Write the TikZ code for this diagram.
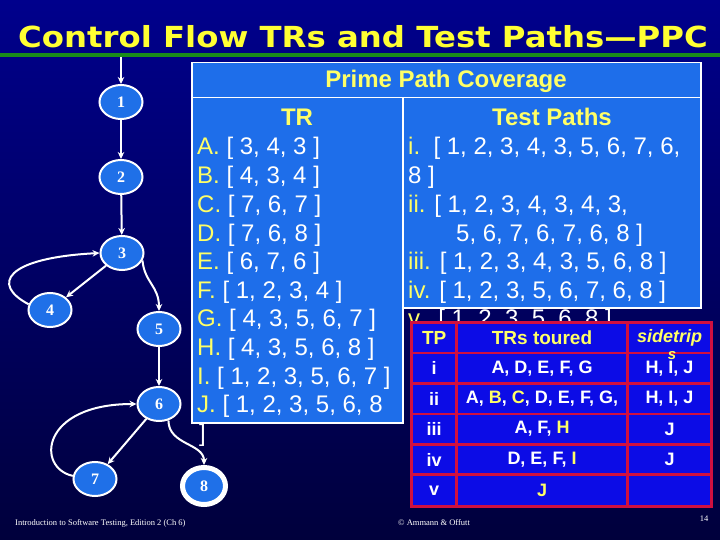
\documentclass[tikz,border=0pt]{standalone}
\usepackage{fontspec}
\setmainfont{Liberation Sans}
\newfontfamily\serifnum{Liberation Serif}
\newfontfamily\titlefont{DejaVu Sans}
\usepackage{xcolor}
\usetikzlibrary{positioning, arrows.meta, shapes.geometric}
\definecolor{bgtop}{HTML}{00008C}
\definecolor{bgbottom}{HTML}{00003C}
\definecolor{rulegreen}{HTML}{1A8C1A}
\definecolor{titleyellow}{HTML}{FFFF33}
\definecolor{tyellow}{HTML}{FFFF66}
\definecolor{ppcblue}{HTML}{1E6EEA}
\definecolor{nodeblue}{HTML}{1F70E8}
\definecolor{cellblue}{HTML}{0C0CE6}
\definecolor{tabred}{HTML}{D01040}
\newcommand{\trlbl}[1]{\textcolor{tyellow}{#1}}

\begin{document}
\begin{tikzpicture}[x=1pt, y=-1pt,
  cfgnode/.style={ellipse, draw=white, line width=2pt, fill=nodeblue, minimum width=43pt,
    minimum height=34pt, inner sep=0pt, text=white, font=\serifnum\bfseries\fontsize{16}{16}\selectfont},
  finalnode/.style={cfgnode, line width=5pt, minimum height=37pt},
  edge/.style={-{Stealth[length=7pt, width=6.5pt]}, draw=white, line width=2pt},
  panel/.style={rectangle, draw=white, line width=1.5pt, fill=ppcblue},
  pline/.style={anchor=base west, inner sep=0pt, text=white, font=\fontsize{24}{28}\selectfont},
  phead/.style={anchor=base, inner sep=0pt, text=tyellow, font=\bfseries\fontsize{24}{28}\selectfont},
  cell/.style={rectangle, draw=tabred, line width=2.5pt, fill=cellblue, anchor=north west,
    inner sep=0pt, outer sep=0pt, minimum height=30.4pt, text=white, font=\bfseries\fontsize{18}{20}\selectfont},
  footer/.style={anchor=west, inner sep=0pt, text=white, font=\serifnum\fontsize{8.5}{10}\selectfont}
]
\useasboundingbox (0,0) rectangle (720,540);
\shade[top color=bgtop, bottom color=bgbottom] (0,0) rectangle (720,540);

% title and rule
\node[anchor=base west, inner sep=0pt, text=titleyellow, font=\titlefont\bfseries\fontsize{29}{29}\selectfont]
  (title) at (18,47.3) {\scalebox{1.115}[1]{Control Flow TRs and Test Paths—PPC}};
\draw[rulegreen, line width=4.5pt] (0,55) -- (720,55);

% control flow graph
\coordinate (entry) at (121,57);
\node[cfgnode] (n1) at (121,102) {1};
\node[cfgnode] (n2) at (121,177) {2};
\node[cfgnode] (n3) at (122,253) {3};
\node[cfgnode] (n4) at (50,310) {4};
\node[cfgnode] (n5) at (159,329) {5};
\node[cfgnode] (n6) at (159,404) {6};
\node[cfgnode] (n7) at (95,479) {7};
\node[finalnode] (n8) at (204,486) {8};

\draw[edge] (entry) -- (n1);
\draw[edge] (n1) -- (n2);
\draw[edge] (n2) -- (n3);
\draw[edge] (n3) -- (n4);
\draw[edge] (n4.165) .. controls +(-38,-20) and +(-94,5) .. (n3.west);
\draw[edge] (n3.-20) .. controls +(2,22) and +(0,-25) .. (n5.north);
\draw[edge] (n5) -- (n6);
\draw[edge] (n6) -- (n7);
\draw[edge] (n7.172) .. controls +(-37,-8) and +(-96,0) .. (n6.west);
\draw[edge] (n6.-60) .. controls +(0,25) and +(0,-22) .. (n8.north);

% prime path coverage panel
\node[panel, anchor=north west, minimum width=509pt, minimum height=35pt] (ppchead) at (191,62) {};
\node[phead] (ppctitle) at (446,88) {Prime Path Coverage};
\node[panel, anchor=north west, minimum width=211pt, minimum height=325pt] (trbox) at (191,97) {};
\node[panel, anchor=north west, minimum width=298pt, minimum height=210pt] (tpbox) at (402,97) {};

\node[phead] (trtitle) at (297,126) {TR};
\node[pline] (trA) at (197,155) {\trlbl{A.} [ 3, 4, 3 ]};
\node[pline] (trB) at (197,184) {\trlbl{B.} [ 4, 3, 4 ]};
\node[pline] (trC) at (197,212.5) {\trlbl{C.} [ 7, 6, 7 ]};
\node[pline] (trD) at (197,241) {\trlbl{D.} [ 7, 6, 8 ]};
\node[pline] (trE) at (197,269.5) {\trlbl{E.} [ 6, 7, 6 ]};
\node[pline] (trF) at (197,298) {\trlbl{F.} [ 1, 2, 3, 4 ]};
\node[pline] (trG) at (197,326.5) {\trlbl{G.} [ 4, 3, 5, 6, 7 ]};
\node[pline] (trH) at (197,355) {\trlbl{H.} [ 4, 3, 5, 6, 8 ]};
\node[pline] (trI) at (197,384) {\trlbl{I.} [ 1, 2, 3, 5, 6, 7 ]};
\node[pline] (trJ) at (197,412.5) {\trlbl{J.} [ 1, 2, 3, 5, 6, 8};
\node[pline] (trJend) at (199,441) {]};

\node[phead] (tptitle) at (552,126) {Test Paths};
\node[pline] (tp1) at (408,155) {\trlbl{i.}\ \ [ 1, 2, 3, 4, 3, 5, 6, 7, 6,};
\node[pline] (tp1b) at (408,184) {8 ]};
\node[pline] (tp2) at (408,212.5) {\trlbl{ii.} [ 1, 2, 3, 4, 3, 4, 3,};
\node[pline] (tp2b) at (456,241) {5, 6, 7, 6, 7, 6, 8 ]};
\node[pline] (tp3) at (408,269.5) {\trlbl{iii.} [ 1, 2, 3, 4, 3, 5, 6, 8 ]};
\node[pline] (tp4) at (408,298) {\trlbl{iv.} [ 1, 2, 3, 5, 6, 7, 6, 8 ]};
\node[pline] (tp5) at (408,326.5) {\trlbl{v.}\ \ [ 1, 2, 3, 5, 6, 8 ]};

% tour table
\node[cell, minimum width=45pt, text=tyellow, font=\bfseries\fontsize{19}{20}\selectfont] (hTP) at (411.7,322.7) {TP};
\node[cell, minimum width=170.6pt, text=tyellow, font=\bfseries\fontsize{19}{20}\selectfont, right=0pt of hTP] (hTR) {TRs toured};
\node[cell, minimum width=84.4pt, text=tyellow, font=\bfseries\itshape\fontsize{18}{20}\selectfont, right=0pt of hTR] (hSide) {sidetrip};

\node[cell, minimum width=45pt, below=0pt of hTP] (rTP1) {i};
\node[cell, minimum width=170.6pt, right=0pt of rTP1] (rTR1) {A, D, E, F, G};
\node[cell, minimum width=84.4pt, right=0pt of rTR1] (rSide1) {H, I, J};
\node[cell, minimum width=45pt, below=0pt of rTP1] (rTP2) {ii};
\node[cell, minimum width=170.6pt, right=0pt of rTP2] (rTR2) {A, \trlbl{B}, \trlbl{C}, D, E, F, G,};
\node[cell, minimum width=84.4pt, right=0pt of rTR2] (rSide2) {H, I, J};
\node[cell, minimum width=45pt, below=0pt of rTP2] (rTP3) {iii};
\node[cell, minimum width=170.6pt, right=0pt of rTP3] (rTR3) {A, F, \trlbl{H}};
\node[cell, minimum width=84.4pt, right=0pt of rTR3] (rSide3) {J};
\node[cell, minimum width=45pt, below=0pt of rTP3] (rTP4) {iv};
\node[cell, minimum width=170.6pt, right=0pt of rTP4] (rTR4) {D, E, F, \trlbl{I}};
\node[cell, minimum width=84.4pt, right=0pt of rTR4] (rSide4) {J};
\node[cell, minimum width=45pt, minimum height=32pt, below=0pt of rTP4] (rTP5) {v};
\node[cell, minimum width=170.6pt, minimum height=32pt, right=0pt of rTP5] (rTR5) {\trlbl{J}};
\node[cell, minimum width=84.4pt, minimum height=32pt, right=0pt of rTR5] (rSide5) {};
\node[inner sep=0pt, text=tyellow, font=\bfseries\itshape\fontsize{15}{15}\selectfont] (sidesuffix) at (672,356) {s};

% footer
\node[footer] (foot1) at (15,523) {Introduction to Software Testing, Edition 2 (Ch 6)};
\node[footer] (foot2) at (398,523) {© Ammann \& Offutt};
\node[inner sep=0pt, text=white, font=\serifnum\fontsize{8.5}{10}\selectfont] (pagenum) at (704,519) {14};
\end{tikzpicture}
\end{document}
